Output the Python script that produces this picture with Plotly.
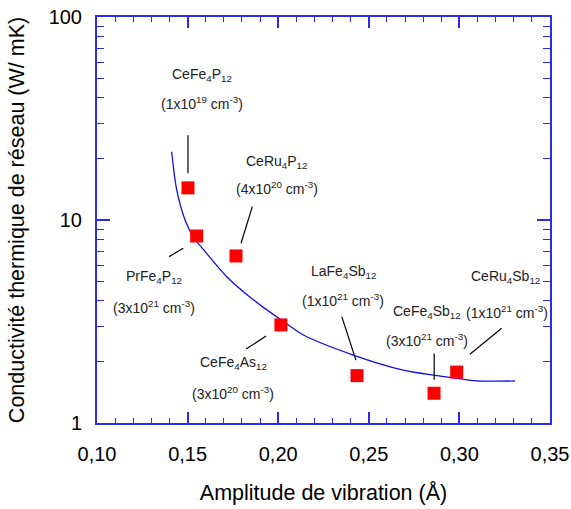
import math
import plotly.graph_objects as go

# --- data ---
names = ["CeFe4P12", "PrFe4P12", "CeRu4P12", "CeFe4As12", "LaFe4Sb12", "CeFe4Sb12", "CeRu4Sb12"]
amp = [0.1502, 0.1550, 0.1767, 0.2015, 0.2435, 0.2860, 0.2985]
kappa = [14.4, 8.34, 6.65, 3.04, 1.71, 1.40, 1.78]

curve_x = [0.1412, 0.1440, 0.1486, 0.1531, 0.1605, 0.1716, 0.1863, 0.2056, 0.2139,
           0.2414, 0.2690, 0.2875, 0.2985, 0.3095, 0.3307]
curve_y = [21.7, 14.06, 10.0, 8.27, 6.85, 5.25, 4.04, 3.04, 2.71,
           2.16, 1.82, 1.71, 1.66, 1.61, 1.61]

x_tickvals = [0.10, 0.15, 0.20, 0.25, 0.30, 0.35]
x_ticktext = ["0,10", "0,15", "0,20", "0,25", "0,30", "0,35"]
y_tickvals = [1, 10, 100]
y_ticktext = ["1", "10", "100"]
y_minor = [2, 3, 4, 5, 6, 7, 8, 9, 20, 30, 40, 50, 60, 70, 80, 90]

label_formula = ["CeFe<sub>4</sub>P<sub>12</sub>", "PrFe<sub>4</sub>P<sub>12</sub>",
                 "CeRu<sub>4</sub>P<sub>12</sub>", "CeFe<sub>4</sub>As<sub>12</sub>",
                 "LaFe<sub>4</sub>Sb<sub>12</sub>", "CeFe<sub>4</sub>Sb<sub>12</sub>",
                 "CeRu<sub>4</sub>Sb<sub>12</sub>"]
label_conc = ["(1x10<sup>19</sup> cm<sup>-3</sup>)", "(3x10<sup>21</sup> cm<sup>-3</sup>)",
              "(4x10<sup>20</sup> cm<sup>-3</sup>)", "(3x10<sup>20</sup> cm<sup>-3</sup>)",
              "(1x10<sup>21</sup> cm<sup>-3</sup>)", "(3x10<sup>21</sup> cm<sup>-3</sup>)",
              "(1x10<sup>21</sup> cm<sup>-3</sup>)"]
lab_fx = [0.1579, 0.1315, 0.1993, 0.1751, 0.2358, 0.2820, 0.3257]
lab_fy = [51.8, 5.24, 19.3, 1.975, 5.54, 3.52, 5.24]
lab_cx = [0.1579, 0.1315, 0.1993, 0.1751, 0.2358, 0.2822, 0.3265]
lab_cy = [37.7, 3.73, 14.4, 1.405, 4.04, 2.56, 3.52]
lead_x0 = [0.1502, 0.1398, 0.1857, 0.1823, 0.2351, 0.2861, 0.3058]
lead_y0 = [26.2, 6.60, 11.63, 2.31, 3.34, 2.20, 2.18]
lead_x1 = [0.1502, 0.1476, 0.1795, 0.1933, 0.2429, 0.2861, 0.3233]
lead_y1 = [17.0, 7.26, 7.68, 2.68, 2.04, 1.63, 2.93]

axis_blue = "#2b2bf0"
font_fam = "Liberation Sans, Arial, sans-serif"

fig = go.Figure()
fig.add_trace(go.Scatter(x=curve_x, y=curve_y, mode="lines",
                         line=dict(color="#1010e0", width=1.3, shape="spline", smoothing=0.8),
                         hoverinfo="skip", showlegend=False))
fig.add_trace(go.Scatter(x=amp, y=kappa, mode="markers", text=names,
                         marker=dict(symbol="square", size=13, color="#ff0000"),
                         showlegend=False))

for i in range(len(names)):
    fig.add_shape(type="line", xref="x", yref="y",
                  x0=lead_x0[i], y0=lead_y0[i], x1=lead_x1[i], y1=lead_y1[i],
                  line=dict(color="black", width=1.2))
    fig.add_annotation(x=lab_fx[i], y=math.log10(lab_fy[i]), text=label_formula[i], showarrow=False,
                       font=dict(size=14, color="#222222", family=font_fam))
    fig.add_annotation(x=lab_cx[i], y=math.log10(lab_cy[i]), text=label_conc[i], showarrow=False,
                       font=dict(size=14, color="#222222", family=font_fam))

fig.update_layout(
    width=571, height=509,
    margin=dict(l=97, r=21, t=17, b=86),
    paper_bgcolor="white", plot_bgcolor="white",
    font=dict(family=font_fam, color="black", size=20),
    showlegend=False,
)
fig.update_xaxes(
    range=[0.10, 0.35], tickvals=x_tickvals, ticktext=x_ticktext,
    ticks="inside", ticklen=11, tickwidth=1.5, tickcolor=axis_blue,
    showline=True, linecolor=axis_blue, linewidth=2, mirror="ticks",
    showgrid=False, zeroline=False, automargin=False, ticklabelstandoff=12,
    minor=dict(ticks="inside", dtick=0.01, ticklen=5, tickcolor=axis_blue, tickwidth=1.2, showgrid=False),
    tickfont=dict(size=20, color="black"),
    title=dict(text="Amplitude de vibration (Å)", font=dict(size=21.5), standoff=21),
)
fig.update_yaxes(
    type="log", range=[-0.0005, 2.0005], tickvals=y_tickvals, ticktext=y_ticktext,
    ticks="inside", ticklen=13, tickwidth=1.5, tickcolor=axis_blue,
    showline=True, linecolor=axis_blue, linewidth=2, mirror="ticks",
    showgrid=False, zeroline=False, automargin=False, ticklabelstandoff=9,
    minor=dict(ticks="inside", tickvals=y_minor, ticklen=7, tickcolor=axis_blue, tickwidth=1.2, showgrid=False),
    tickfont=dict(size=20, color="black"),
    title=dict(text="Conductivité thermique de réseau (W/ mK)", font=dict(size=21.5), standoff=18),
)

fig.write_html("out.html", config={"displayModeBar": False},
               post_script="document.body.style.margin='0';document.body.style.overflow='hidden';")
